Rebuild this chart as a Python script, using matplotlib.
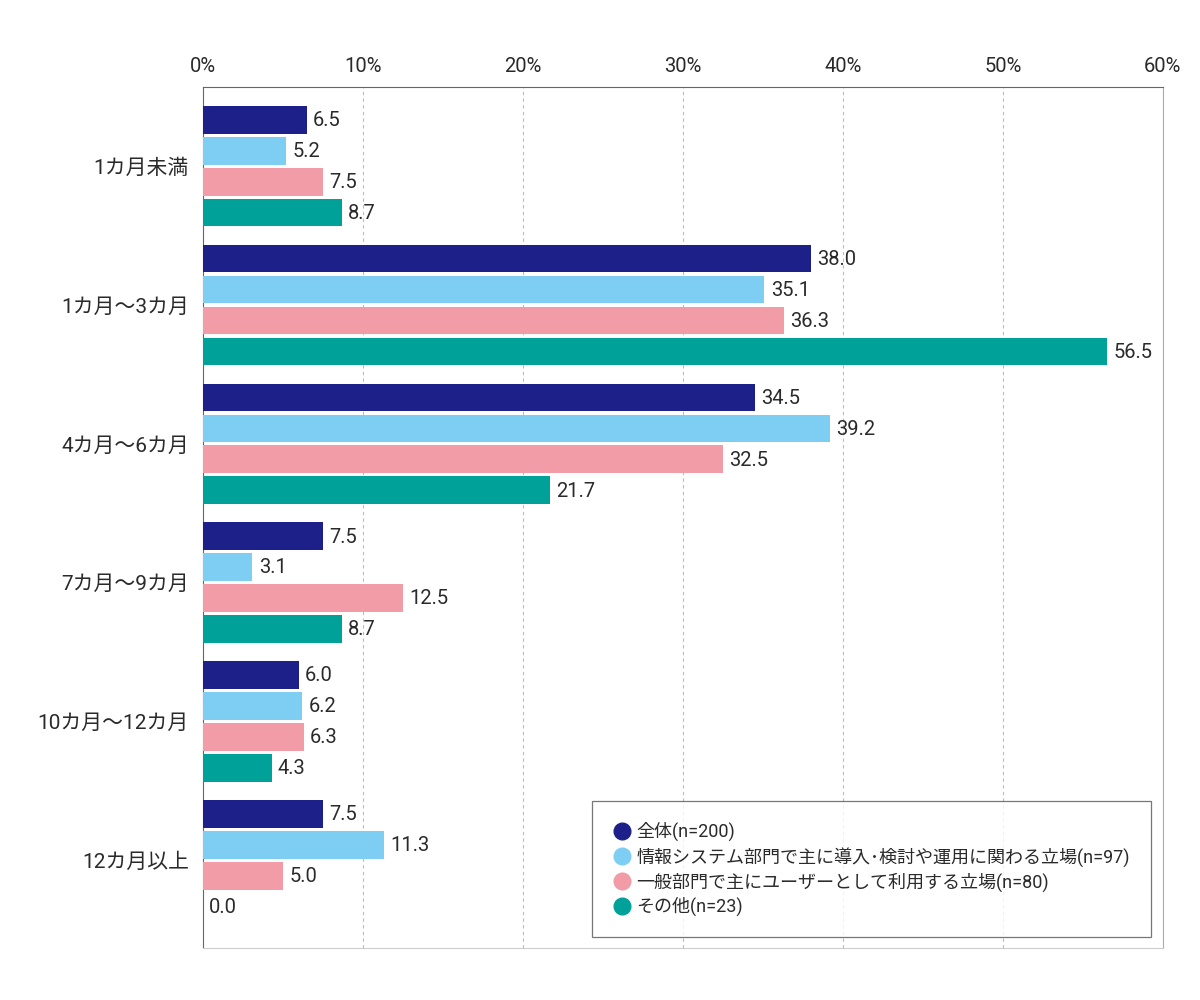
import matplotlib
matplotlib.use('Agg')
import matplotlib.pyplot as plt
from matplotlib.lines import Line2D
import numpy as np

plt.rcParams['font.family'] = ['Roboto', 'Noto Sans CJK JP', 'DejaVu Sans']

categories = ['1カ月未満', '1カ月～3カ月', '4カ月～6カ月', '7カ月～9カ月', '10カ月～12カ月', '12カ月以上']
series_names = ['全体(n=200)', '情報システム部門で主に導入･検討や運用に関わる立場(n=97)',
                '一般部門で主にユーザーとして利用する立場(n=80)', 'その他(n=23)']
all_users = [6.5, 38.0, 34.5, 7.5, 6.0, 7.5]
it_dept = [5.2, 35.1, 39.2, 3.1, 6.2, 11.3]
general_dept = [7.5, 36.3, 32.5, 12.5, 6.3, 5.0]
others = [8.7, 56.5, 21.7, 8.7, 4.3, 0.0]
colors = ['#1d2088', '#7ecef4', '#f19ca7', '#00a199']
xticks = [0, 10, 20, 30, 40, 50, 60]
text_color = '#2a2a2a'

fig = plt.figure(figsize=(12, 10), dpi=100)
ax = fig.add_axes([0.169, 0.052, 0.8, 0.861])

y = np.arange(len(categories))
step = 0.223
height = 0.2
for i, (vals, c) in enumerate(zip([all_users, it_dept, general_dept, others], colors)):
    pos = y - 1.5 * step + i * step
    ax.barh(pos, vals, height=height, color=c, zorder=3)
    for p, v in zip(pos, vals):
        ax.annotate(f'{v:.1f}', (v, p), xytext=(4.5, -0.5), textcoords='offset points',
                    va='center', ha='left', fontsize=14.5, color=text_color)

ax.set_xlim(0, 60)
ax.set_ylim(5.63, -0.57)
ax.set_xticks(xticks)
ax.set_xticklabels([f'{t}%' for t in xticks])
ax.xaxis.tick_top()
ax.tick_params(axis='x', length=0, pad=8, labelsize=14.5, colors=text_color)
ax.set_yticks(y)
ax.set_yticklabels(categories)
ax.tick_params(axis='y', length=0, pad=10, labelsize=15, colors=text_color)
for t in xticks[1:-1]:
    ax.axvline(t, color='#bbbbbb', linestyle=(0, (3, 3)), linewidth=0.8, zorder=1)

ax.spines['top'].set_color('#666666')
ax.spines['left'].set_color('#666666')
ax.spines['right'].set_color('#aaaaaa')
ax.spines['bottom'].set_color('#cccccc')

handles = [Line2D([0], [0], marker='o', linestyle='', markersize=12, markerfacecolor=c,
                  markeredgecolor=c) for c in colors]
leg = ax.legend(handles, series_names, loc='lower right', bbox_to_anchor=(0.9875, 0.0128),
                borderaxespad=0, fontsize=13, frameon=True, fancybox=False, handletextpad=0.3,
                labelspacing=0.3, borderpad=1.15, handlelength=1.0)
leg.get_frame().set_edgecolor('#555555')
leg.get_frame().set_linewidth(0.9)
for t in leg.get_texts():
    t.set_color(text_color)

fig.savefig('out.png', dpi=100)
